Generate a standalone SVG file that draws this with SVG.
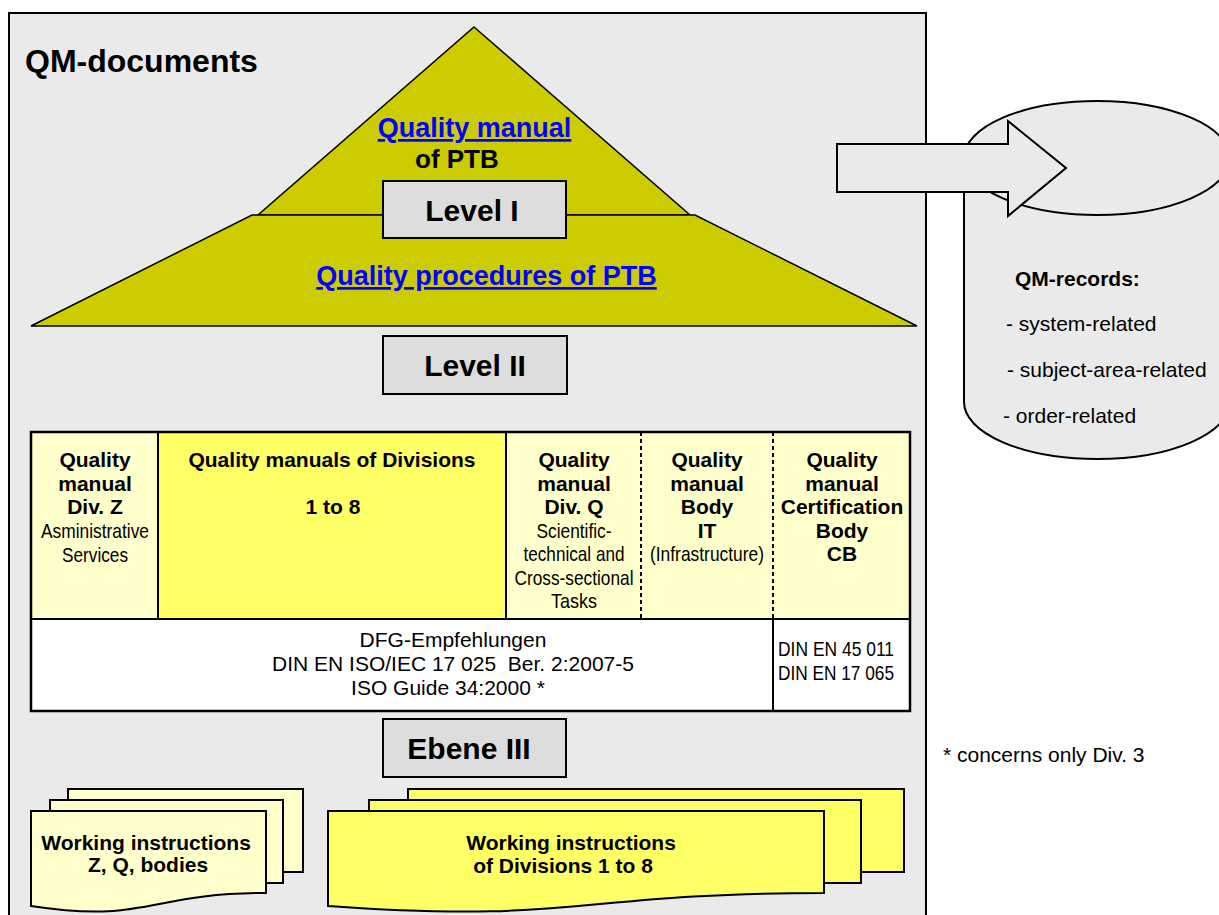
<svg xmlns="http://www.w3.org/2000/svg" width="1219" height="915" viewBox="0 0 1219 915">
<style>
text{font-family:"Liberation Sans",Arial,sans-serif;fill:#000}
.b{font-weight:bold}
.c{text-anchor:middle}
.n{font-size:21px}
.t{font-size:21px;font-weight:bold;text-anchor:middle}
.lvl{fill:#DDDDDD;stroke:#000;stroke-width:2}
.lv{font-size:30px;font-weight:bold;text-anchor:middle}
.link{fill:#0000FF;font-weight:bold;font-size:27px;text-decoration:underline}
.ln{stroke:#000;stroke-width:2;fill:none}
.dash{stroke:#000;stroke-width:2;stroke-dasharray:4 3;fill:none}
.lt{fill:#FFFFCC;stroke:#000;stroke-width:2}
.yl{fill:#FFFF66;stroke:#000;stroke-width:2}
.gr{fill:#EAEAEA;stroke:#000;stroke-width:2}
</style>

<g id="frame">
<rect x="9" y="13" width="917" height="920" fill="#EAEAEA" stroke="#000" stroke-width="2"/>
<text x="25" y="72" class="b" font-size="32">QM-documents</text>
</g>

<g id="pyramid">
<polygon points="474,27 690,215 258,215" fill="#CCCC00" stroke="#000" stroke-width="1.5"/>
<polygon points="252,215 695,215 917,326 31,326" fill="#CCCC00" stroke="#000" stroke-width="1.5"/>
<text x="474.5" y="137" class="link c">Quality manual</text>
<text x="415" y="168" class="b" font-size="26">of PTB</text>
<text x="486.5" y="285" class="link c">Quality procedures of PTB</text>
</g>

<g id="level1">
<rect x="383" y="181" width="183" height="57" class="lvl"/>
<text x="472" y="221" class="lv">Level I</text>
</g>

<g id="level2">
<rect x="383" y="336" width="184" height="58" class="lvl"/>
<text x="475" y="376" class="lv">Level II</text>
</g>

<g id="table">
<rect x="31" y="432" width="127" height="187" fill="#FFFFCC"/>
<rect x="158" y="432" width="348" height="187" fill="#FFFF66"/>
<rect x="506" y="432" width="404" height="187" fill="#FFFFCC"/>
<rect x="31" y="619" width="879" height="92" fill="#FFFFFF"/>
<line x1="158" y1="432" x2="158" y2="619" class="ln"/>
<line x1="506" y1="432" x2="506" y2="619" class="ln"/>
<line x1="641" y1="432" x2="641" y2="619" class="dash"/>
<line x1="773" y1="432" x2="773" y2="619" class="dash"/>
<line x1="31" y1="619" x2="910" y2="619" class="ln" stroke-width="2.5"/>
<line x1="773" y1="619" x2="773" y2="711" class="ln"/>
<rect x="31" y="432" width="879" height="279" fill="none" stroke="#000" stroke-width="2.5"/>
</g>

<g id="divZ">
<text x="95" y="467" class="t">Quality</text>
<text x="95" y="491" class="t">manual</text>
<text x="95" y="514" class="t">Div. Z</text>
<text x="95" y="538" class="n c" textLength="108" lengthAdjust="spacingAndGlyphs">Asministrative</text>
<text x="95" y="562" class="n c" textLength="66" lengthAdjust="spacingAndGlyphs">Services</text>
</g>

<g id="divisions">
<text x="332" y="467" class="t">Quality manuals of Divisions</text>
<text x="333" y="514" class="t">1 to 8</text>
</g>

<g id="divQ">
<text x="574" y="467" class="t">Quality</text>
<text x="574" y="491" class="t">manual</text>
<text x="574" y="514" class="t">Div. Q</text>
<text x="574" y="538" class="n c" textLength="75" lengthAdjust="spacingAndGlyphs">Scientific-</text>
<text x="574" y="561" class="n c" textLength="101" lengthAdjust="spacingAndGlyphs">technical and</text>
<text x="574" y="585" class="n c" textLength="119" lengthAdjust="spacingAndGlyphs">Cross-sectional</text>
<text x="574" y="608" class="n c" textLength="46" lengthAdjust="spacingAndGlyphs">Tasks</text>
</g>

<g id="bodyIT">
<text x="707" y="467" class="t">Quality</text>
<text x="707" y="491" class="t">manual</text>
<text x="707" y="514" class="t">Body</text>
<text x="707" y="538" class="t">IT</text>
<text x="707" y="561" class="n c" textLength="114" lengthAdjust="spacingAndGlyphs">(Infrastructure)</text>
</g>

<g id="bodyCB">
<text x="842" y="467" class="t">Quality</text>
<text x="842" y="491" class="t">manual</text>
<text x="842" y="514" class="t">Certification</text>
<text x="842" y="538" class="t">Body</text>
<text x="842" y="561" class="t">CB</text>
</g>

<g id="standards">
<text x="453" y="647" class="c" font-size="21">DFG-Empfehlungen</text>
<text x="453" y="671" class="c" font-size="21" xml:space="preserve">DIN EN ISO/IEC 17 025  Ber. 2:2007-5</text>
<text x="448" y="695" class="c" font-size="21">ISO Guide 34:2000 *</text>
<text x="778" y="656" class="n" textLength="116" lengthAdjust="spacingAndGlyphs">DIN EN 45 011</text>
<text x="778" y="680" class="n" textLength="116" lengthAdjust="spacingAndGlyphs">DIN EN 17 065</text>
</g>

<g id="level3">
<rect x="383" y="719" width="183" height="58" class="lvl"/>
<text x="469" y="759" class="lv">Ebene III</text>
</g>

<g id="wi-bodies">
<rect x="68" y="789" width="235" height="83" class="lt"/>
<rect x="50" y="800" width="233" height="83" class="lt"/>
<path d="M31,811 H266 V893 C148,893 148,924 31,906 Z" class="lt"/>
<text x="146" y="850" class="t">Working instructions</text>
<text x="148" y="872" class="t">Z, Q, bodies</text>
</g>

<g id="wi-divisions">
<rect x="408" y="789" width="496" height="83" class="yl"/>
<rect x="369" y="800" width="492" height="83" class="yl"/>
<path d="M328,811 H824 V893 C576,893 576,924 328,906 Z" class="yl"/>
<text x="571" y="850" class="t">Working instructions</text>
<text x="563" y="873" class="t">of Divisions 1 to 8</text>
</g>

<g id="qm-records">
<path d="M964,158 V402 A133,57 0 0 0 1230,402 V158 Z" class="gr"/>
<ellipse cx="1097" cy="158" rx="133" ry="57" class="gr"/>
<text x="1015" y="286" class="b" font-size="21">QM-records:</text>
<text x="1006" y="331" font-size="21">- system-related</text>
<text x="1007" y="377" font-size="21">- subject-area-related</text>
<text x="1003" y="423" font-size="21">- order-related</text>
</g>

<g id="note">
<text x="943" y="762" font-size="21">* concerns only Div. 3</text>
</g>

<g id="connectors">
<polygon points="837,144 1008,144 1008,121 1066,168 1008,216 1008,192 837,192" class="gr"/>
</g>
</svg>
